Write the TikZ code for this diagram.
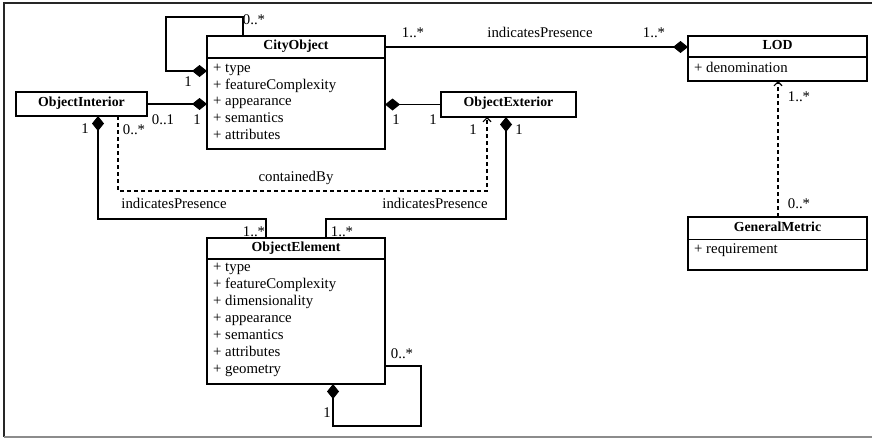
\documentclass[tikz,border=0pt]{standalone}
\usepackage{fontspec}
\setmainfont{Liberation Serif}
\usetikzlibrary{arrows.meta,calc}
\begin{document}
\begin{tikzpicture}[x=1pt,y=-1pt,
  box/.style={draw, line width=1.1pt, anchor=north west, inner sep=0pt, outer sep=0pt},
  hdr/.style={font=\fontsize{13.8}{16}\selectfont\bfseries, anchor=base, inner sep=0pt},
  attr/.style={font=\fontsize{14.8}{17}\selectfont, anchor=base west, inner sep=0pt},
  lbl/.style={font=\fontsize{14.8}{17}\selectfont, anchor=base, inner sep=0pt},
  conn/.style={line width=1.1pt},
  sepline/.style={line width=1.1pt},
  comp/.style={conn, -{Diamond[length=15pt,width=12pt]}},
  dep/.style={conn, dash pattern=on 4pt off 3pt, -{Straight Barb[length=4pt,width=8pt]}},
  frame/.style={line width=1.2pt}
]
\useasboundingbox (0,0) rectangle (872,439);
% frame
\draw[frame, black!85] (872,3) -- (4,3) -- (4,437);
\draw[frame, black!45] (4,437) -- (872,437);

% CityObject
\node[box, minimum width=178pt, minimum height=113pt] (co) at (207,36) {};
\draw[sepline] ($(co.north west)+(0,22)$) -- ($(co.north east)+(0,22)$);
\node[hdr] (coh) at ($(co.north)+(0,13)$) {CityObject};
\foreach \t [count=\i] in {type,featureComplexity,appearance,semantics,attributes}
  \node[attr] (co\i) at ($(co.north west)+(6,20.1+16.6*\i)$) {+ \t};

% ObjectInterior
\node[box, minimum width=131pt, minimum height=24pt] (oi) at (16,92) {};
\node[hdr] (oih) at ($(oi.north)+(0,14)$) {ObjectInterior};

% ObjectExterior
\node[box, minimum width=135pt, minimum height=25pt] (oe) at (441,92) {};
\node[hdr] (oeh) at ($(oe.north)+(0,14.5)$) {ObjectExterior};

% ObjectElement
\node[box, minimum width=178pt, minimum height=146pt] (el) at (207,238) {};
\draw[sepline] ($(el.north west)+(0,21)$) -- ($(el.north east)+(0,21)$);
\node[hdr] (elh) at ($(el.north)+(0,13)$) {ObjectElement};
\foreach \t [count=\i] in {type,featureComplexity,dimensionality,appearance,semantics,attributes,geometry}
  \node[attr] (el\i) at ($(el.north west)+(6,16.7+17*\i)$) {+ \t};

% LOD
\node[box, minimum width=179pt, minimum height=45pt] (lod) at (688,36) {};
\draw[sepline] ($(lod.north west)+(0,21)$) -- ($(lod.north east)+(0,21)$);
\node[hdr] (lodh) at ($(lod.north)+(0,13)$) {LOD};
\node[attr] (lod1) at ($(lod.north west)+(6,36.7)$) {+ denomination};

% GeneralMetric
\node[box, minimum width=179pt, minimum height=53pt] (gm) at (688,217) {};
\draw[sepline] ($(gm.north west)+(0,22.5)$) -- ($(gm.north east)+(0,22.5)$);
\node[hdr] (gmh) at ($(gm.north)+(0,14.5)$) {GeneralMetric};
\node[attr] (gm1) at ($(gm.north west)+(6,36.3)$) {+ requirement};

% connectors
\draw[comp] ([xshift=36pt]co.north west) -- ++(0,-19) -- ++(-77,0) |- ([yshift=-35pt]co.north west);
\draw[comp] (oi.east) -- (oi.east -| co.west);
\draw[comp] (oe.west) -- (oe.west -| co.east);
\coordinate (colod) at ([yshift=-11pt]co.north east);
\draw[comp] (colod) -- (colod -| lod.west);
\draw[comp] ([xshift=59pt]el.north west) -- ++(0,-19) -| ([xshift=82pt]oi.south west);
\draw[comp] ([xshift=119pt]el.north west) -- ++(0,-19) -| ([xshift=65pt]oe.south west);
\draw[dep] ([xshift=102pt]oi.south west) -- ++(0,75) -| ([xshift=46pt]oe.south west);
\draw[comp] ([yshift=-128pt]el.north east) -- ++(36,0) -- ++(0,60) -| ([xshift=126pt]el.south west);
\coordinate (gmt) at ([xshift=90pt]gm.north west);
\draw[dep] (gmt) -- (gmt |- lod.south);

% labels
\node[lbl] (l1) at (254,24) {0..*};
\node[lbl] (l2) at (188,86) {1};
\node[lbl] (l3) at (163,124) {0..1};
\node[lbl] (l4) at (197,124) {1};
\node[lbl] (l5) at (396,124) {1};
\node[lbl] (l6) at (433,124) {1};
\node[lbl] (l7) at (85,133) {1};
\node[lbl] (l8) at (134,134) {0..*};
\node[lbl] (l9) at (473,134) {1};
\node[lbl] (l10) at (519,134) {1};
\node[lbl] (l11) at (296,181) {containedBy};
\node[lbl] (l12) at (174,208) {indicatesPresence};
\node[lbl] (l13) at (435,208) {indicatesPresence};
\node[lbl] (l14) at (254,236) {1..*};
\node[lbl] (l15) at (342,236) {1..*};
\node[lbl] (l16) at (402,358) {0..*};
\node[lbl] (l17) at (327,417) {1};
\node[lbl] (l18) at (413,37) {1..*};
\node[lbl] (l19) at (540,37) {indicatesPresence};
\node[lbl] (l20) at (654,37) {1..*};
\node[lbl] (l21) at (799,101) {1..*};
\node[lbl] (l22) at (799,208) {0..*};
\end{tikzpicture}
\end{document}
